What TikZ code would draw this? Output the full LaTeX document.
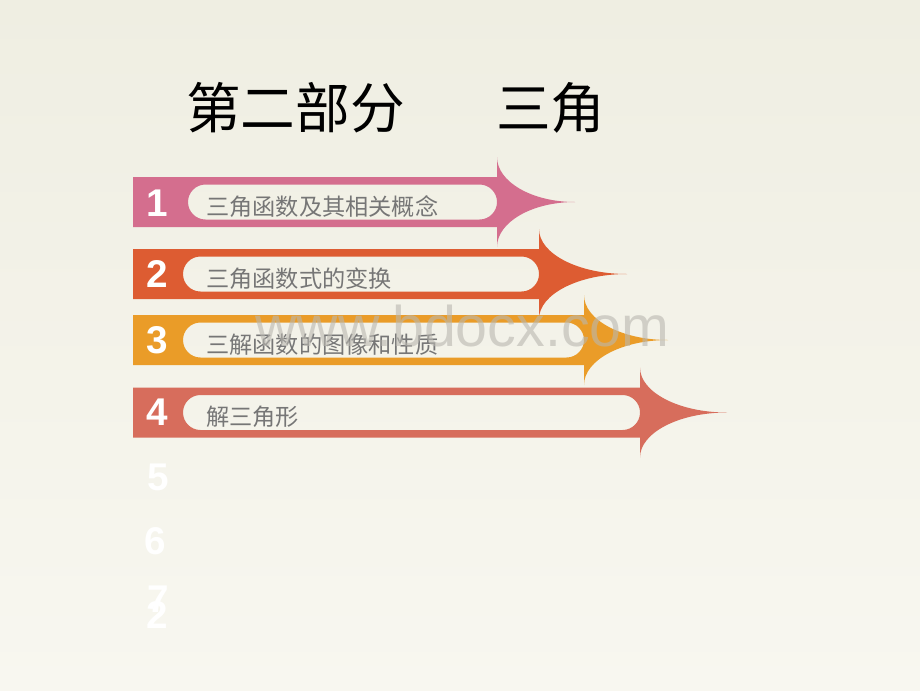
\documentclass[tikz,border=0pt]{standalone}
\usepackage{fontspec}
\setmainfont{Liberation Sans}
\newfontfamily\cjk{Noto Sans CJK SC}
\definecolor{bgtop}{RGB}{239,238,226}
\definecolor{bgbot}{RGB}{248,247,240}
\definecolor{arrA}{RGB}{212,110,142}
\definecolor{arrB}{RGB}{221,92,50}
\definecolor{arrC}{RGB}{234,156,40}
\definecolor{arrD}{RGB}{215,109,92}
\definecolor{itemgray}{RGB}{118,118,118}
\definecolor{wmgray}{RGB}{185,183,176}
\newcommand{\myarrowshape}[5]{%
  \fill[#1, even odd rule]
    (133,#2-25) -- (#3,#2-25) -- (#3,#2-45)
    .. controls (#3,#2-45+0.552*45) and (#4-0.552*#4+0.552*#3,#2) .. (#4,#2)
    .. controls (#4-0.552*#4+0.552*#3,#2) and (#3,#2+45-0.552*45) .. (#3,#2+45)
    -- (#3,#2+25) -- (133,#2+25) -- cycle
    (#5+17.5,#2-17.5) -- (#3-17.5,#2-17.5)
    arc[start angle=-90,end angle=90,radius=17.5]
    -- (#5+17.5,#2+17.5)
    arc[start angle=90,end angle=270,radius=17.5] -- cycle;
}
\tikzset{
  numst/.style={inner sep=0pt, text=white, font=\bfseries\fontsize{29}{29}\selectfont},
  itemst/.style={anchor=west, inner sep=0pt, text=itemgray, font=\cjk\fontsize{17.4}{17.4}\selectfont},
  titlest/.style={anchor=west, inner sep=0pt, text=black, font=\cjk\fontsize{41}{41}\selectfont},
}
\begin{document}
\begin{tikzpicture}[x=0.75pt,y=-0.75pt]
\useasboundingbox (0,0) rectangle (920,690);
\shade[top color=bgtop, bottom color=bgbot] (0,0) rectangle (920,690);

\node[titlest] (t1) at (186,108) {第二部分};
\node[titlest] (t2) at (496,108) {三角};

\myarrowshape{arrA}{202}{497}{575}{188}
\myarrowshape{arrB}{274}{539}{627}{183}
\myarrowshape{arrC}{340}{584}{668}{183}
\myarrowshape{arrD}{412.5}{640}{727}{183}

\node[numst] (n1) at (157,203) {1};
\node[numst] (n2) at (157,274) {2};
\node[numst] (n3) at (157,340) {3};
\node[numst] (n4) at (157,412) {4};
\node[numst] (n5) at (158,477) {5};
\node[numst] (n6) at (155,541) {6};
\node[numst] (n7) at (158,599) {7};
\node[numst] (n8) at (157,615) {2};

\node[itemst] (i1) at (206,207) {三角函数及其相关概念};
\node[itemst] (i2) at (206,279) {三角函数式的变换};
\node[itemst] (i3) at (206,344.5) {三解函数的图像和性质};
\node[itemst] (i4) at (206,417) {解三角形};

\node[anchor=base west, inner sep=0pt, text=wmgray, text opacity=0.6,
      font=\fontsize{43}{43}\selectfont] (wm) at (255,346) {www.bdocx.com};
\end{tikzpicture}
\end{document}
